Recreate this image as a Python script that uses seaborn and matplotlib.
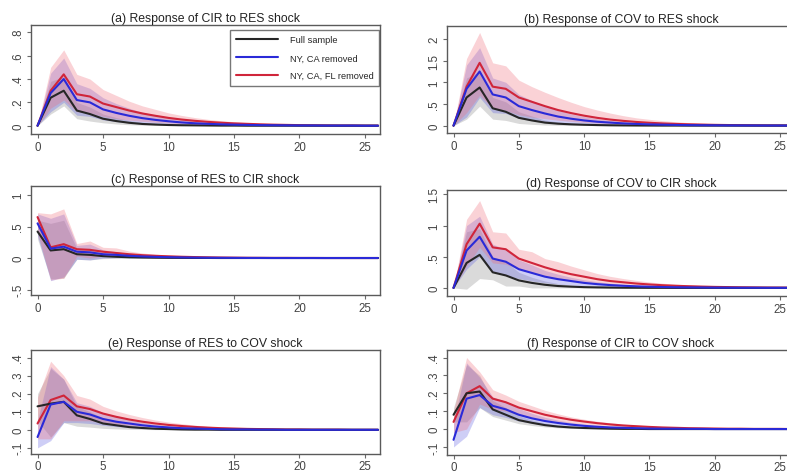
import matplotlib
matplotlib.use("Agg")
import matplotlib.pyplot as plt
import matplotlib.ticker as mticker
import seaborn as sns
import pandas as pd

sns.set_style("white")
plt.rcParams['font.family'] = ['Liberation Sans', 'DejaVu Sans']

horizon = list(range(27))
series_names = ["Full sample", "NY, CA removed", "NY, CA, FL removed"]

# (a) CIR <- RES
a_full = [0, .24, .30, .13, .10, .06, .04, .025, .015, .010, .006, .004, .003, .002, .001, .001, 0, 0, 0, 0, 0, 0, 0, 0, 0, 0, 0]
a_full_lo = [0, .10, .17, .06, .04, .025, .015, .008, .005, .003, .002, .001, .001, 0, 0, 0, 0, 0, 0, 0, 0, 0, 0, 0, 0, 0, 0]
a_full_hi = [0, .38, .42, .20, .16, .10, .07, .045, .03, .02, .013, .008, .005, .003, .002, .001, 0, 0, 0, 0, 0, 0, 0, 0, 0, 0, 0]
a_nyca = [0, .28, .40, .22, .20, .14, .11, .085, .065, .05, .038, .028, .021, .016, .012, .009, .007, .005, .004, .003, .002, .002, .001, .001, .001, 0, 0]
a_nyca_lo = [0, .12, .20, .09, .08, .05, .035, .025, .018, .013, .009, .006, .004, .003, .002, .002, .001, .001, .001, 0, 0, 0, 0, 0, 0, 0, 0]
a_nyca_hi = [0, .45, .58, .36, .32, .24, .19, .15, .115, .09, .07, .053, .04, .03, .023, .017, .013, .01, .007, .005, .004, .003, .002, .002, .001, .001, .001]
a_nycafl = [0, .30, .44, .27, .25, .19, .16, .13, .105, .085, .067, .053, .042, .033, .026, .02, .016, .012, .009, .007, .005, .004, .003, .002, .002, .001, .001]
a_nycafl_lo = [0, .15, .22, .12, .11, .08, .06, .048, .037, .029, .022, .017, .013, .01, .007, .005, .004, .003, .002, .002, .001, .001, .001, 0, 0, 0, 0]
a_nycafl_hi = [0, .50, .65, .44, .40, .31, .26, .21, .17, .14, .11, .088, .07, .055, .043, .034, .026, .02, .016, .012, .009, .007, .005, .004, .003, .002, .002]

# (b) COV <- RES
b_full = [0, .65, .88, .40, .32, .18, .12, .07, .045, .03, .02, .013, .008, .005, .003, .002, .001, .001, 0, 0, 0, 0, 0, 0, 0, 0, 0]
b_full_lo = [0, .15, .45, .15, .12, .05, .03, .015, .008, .005, .003, .002, .001, .001, 0, 0, 0, 0, 0, 0, 0, 0, 0, 0, 0, 0, 0]
b_full_hi = [0, 1.10, 1.25, .65, .55, .32, .22, .13, .085, .055, .036, .023, .015, .01, .006, .004, .003, .002, .001, .001, 0, 0, 0, 0, 0, 0, 0]
b_nyca = [0, .85, 1.25, .72, .65, .45, .36, .28, .21, .16, .12, .09, .07, .052, .039, .029, .022, .016, .012, .009, .007, .005, .004, .003, .002, .002, .001]
b_nyca_lo = [0, .20, .65, .30, .28, .17, .12, .085, .06, .042, .03, .021, .015, .011, .008, .006, .004, .003, .002, .002, .001, .001, .001, 0, 0, 0, 0]
b_nyca_hi = [0, 1.40, 1.80, 1.10, 1.00, .72, .58, .46, .35, .27, .21, .16, .12, .09, .068, .051, .038, .028, .021, .016, .012, .009, .007, .005, .004, .003, .002]
b_nycafl = [0, .90, 1.45, .90, .85, .65, .55, .45, .36, .29, .23, .18, .14, .11, .085, .066, .051, .04, .031, .024, .018, .014, .011, .008, .006, .005, .004]
b_nycafl_lo = [0, .30, .70, .40, .35, .25, .20, .16, .125, .097, .075, .058, .045, .035, .027, .021, .016, .012, .009, .007, .005, .004, .003, .002, .002, .001, .001]
b_nycafl_hi = [0, 1.55, 2.15, 1.45, 1.38, 1.05, .90, .77, .65, .54, .44, .36, .29, .23, .18, .145, .115, .09, .07, .055, .043, .034, .027, .021, .016, .013, .01]

# (c) RES <- CIR
c_full = [.42, .12, .14, .06, .05, .03, .02, .012, .008, .005, .003, .002, .001, .001, 0, 0, 0, 0, 0, 0, 0, 0, 0, 0, 0, 0, 0]
c_full_lo = [.30, -.33, -.32, -.02, -.03, -.01, -.005, -.003, -.002, -.001, 0, 0, 0, 0, 0, 0, 0, 0, 0, 0, 0, 0, 0, 0, 0, 0, 0]
c_full_hi = [.60, .55, .60, .15, .13, .08, .05, .03, .02, .013, .008, .005, .003, .002, .001, .001, 0, 0, 0, 0, 0, 0, 0, 0, 0, 0, 0]
c_nyca = [.55, .15, .18, .10, .09, .06, .05, .035, .025, .018, .013, .009, .006, .004, .003, .002, .001, .001, 0, 0, 0, 0, 0, 0, 0, 0, 0]
c_nyca_lo = [.35, -.36, -.30, -.02, -.03, .00, .005, .005, .004, .003, .002, .001, .001, 0, 0, 0, 0, 0, 0, 0, 0, 0, 0, 0, 0, 0, 0]
c_nyca_hi = [.70, .63, .70, .20, .22, .13, .10, .07, .05, .035, .025, .018, .012, .008, .006, .004, .003, .002, .001, .001, 0, 0, 0, 0, 0, 0, 0]
c_nycafl = [.65, .17, .22, .14, .13, .10, .08, .06, .045, .035, .027, .02, .015, .011, .008, .006, .004, .003, .002, .002, .001, .001, 0, 0, 0, 0, 0]
c_nycafl_lo = [.40, -.35, -.32, .03, .00, .03, .02, .016, .012, .009, .007, .005, .004, .003, .002, .001, .001, 0, 0, 0, 0, 0, 0, 0, 0, 0, 0]
c_nycafl_hi = [.72, .70, .78, .23, .27, .17, .16, .11, .08, .06, .045, .034, .026, .019, .014, .01, .007, .005, .004, .003, .002, .001, .001, 0, 0, 0, 0]

# (d) COV <- CIR
d_full = [0, .40, .53, .25, .20, .12, .08, .05, .03, .02, .012, .008, .005, .003, .002, .001, .001, 0, 0, 0, 0, 0, 0, 0, 0, 0, 0]
d_full_lo = [0, -.02, .15, .13, .03, .03, 0, 0, 0, 0, 0, 0, 0, 0, 0, 0, 0, 0, 0, 0, 0, 0, 0, 0, 0, 0, 0]
d_full_hi = [0, .90, .95, .50, .42, .25, .17, .11, .07, .045, .028, .018, .011, .007, .004, .003, .002, .001, .001, 0, 0, 0, 0, 0, 0, 0, 0]
d_nyca = [0, .60, .82, .47, .42, .30, .24, .18, .14, .11, .08, .06, .045, .034, .025, .019, .014, .01, .008, .006, .004, .003, .002, .002, .001, .001, .001]
d_nyca_lo = [0, .30, .50, .25, .20, .15, .11, .08, .06, .045, .033, .024, .018, .013, .01, .007, .005, .004, .003, .002, .002, .001, .001, .001, 0, 0, 0]
d_nyca_hi = [0, 1.00, 1.15, .70, .62, .45, .37, .28, .22, .17, .13, .10, .075, .056, .042, .031, .023, .017, .013, .01, .007, .005, .004, .003, .002, .002, .001]
d_nycafl = [0, .70, 1.03, .65, .62, .47, .40, .33, .27, .22, .18, .14, .11, .09, .07, .055, .043, .034, .027, .021, .016, .013, .01, .008, .006, .005, .004]
d_nycafl_lo = [0, .35, .65, .40, .38, .30, .24, .19, .15, .12, .095, .074, .058, .045, .035, .027, .021, .016, .013, .01, .008, .006, .005, .004, .003, .002, .002]
d_nycafl_hi = [0, 1.10, 1.40, .90, .88, .62, .58, .47, .42, .35, .29, .23, .185, .15, .12, .095, .075, .06, .047, .037, .029, .023, .018, .014, .011, .009, .007]

# (e) RES <- COV
e_full = [.13, .145, .155, .08, .06, .035, .025, .015, .01, .006, .004, .002, .001, .001, 0, 0, 0, 0, 0, 0, 0, 0, 0, 0, 0, 0, 0]
e_full_lo = [.05, -.04, .04, .02, .015, .008, .005, .003, .002, .001, .001, 0, 0, 0, 0, 0, 0, 0, 0, 0, 0, 0, 0, 0, 0, 0, 0]
e_full_hi = [.20, .34, .28, .13, .10, .065, .045, .028, .018, .011, .007, .004, .003, .002, .001, .001, 0, 0, 0, 0, 0, 0, 0, 0, 0, 0, 0]
e_nyca = [-.04, .14, .155, .10, .085, .06, .045, .035, .025, .018, .013, .009, .007, .005, .003, .002, .002, .001, .001, 0, 0, 0, 0, 0, 0, 0, 0]
e_nyca_lo = [-.10, -.06, .04, .04, .035, .025, .018, .013, .009, .006, .004, .003, .002, .001, .001, 0, 0, 0, 0, 0, 0, 0, 0, 0, 0, 0, 0]
e_nyca_hi = [.05, .35, .28, .15, .13, .095, .072, .055, .041, .03, .022, .016, .012, .009, .006, .004, .003, .002, .002, .001, .001, 0, 0, 0, 0, 0, 0]
e_nycafl = [.035, .165, .19, .13, .115, .09, .072, .057, .045, .035, .027, .021, .016, .012, .009, .007, .005, .004, .003, .002, .002, .001, .001, .001, 0, 0, 0]
e_nycafl_lo = [-.05, -.05, .05, .05, .05, .04, .032, .025, .019, .015, .011, .008, .006, .005, .003, .002, .002, .001, .001, 0, 0, 0, 0, 0, 0, 0, 0]
e_nycafl_hi = [.18, .38, .30, .19, .17, .13, .105, .085, .068, .054, .043, .034, .026, .02, .015, .012, .009, .007, .005, .004, .003, .002, .002, .001, .001, .001, 0]

# (f) CIR <- COV
f_full = [.08, .20, .21, .11, .08, .05, .035, .022, .014, .009, .006, .004, .002, .001, .001, 0, 0, 0, 0, 0, 0, 0, 0, 0, 0, 0, 0]
f_full_lo = [.04, .04, .12, .07, .05, .03, .02, .012, .007, .004, .002, .001, .001, 0, 0, 0, 0, 0, 0, 0, 0, 0, 0, 0, 0, 0, 0]
f_full_hi = [.12, .36, .30, .16, .12, .075, .05, .033, .021, .014, .009, .006, .004, .002, .001, .001, 0, 0, 0, 0, 0, 0, 0, 0, 0, 0, 0]
f_nyca = [-.06, .17, .19, .13, .11, .08, .06, .045, .034, .025, .018, .013, .009, .007, .005, .003, .002, .002, .001, .001, 0, 0, 0, 0, 0, 0, 0]
f_nyca_lo = [-.10, -.04, .12, .08, .065, .045, .033, .024, .017, .012, .009, .006, .004, .003, .002, .001, .001, 0, 0, 0, 0, 0, 0, 0, 0, 0, 0]
f_nyca_hi = [.03, .37, .29, .18, .155, .115, .088, .066, .05, .037, .028, .02, .015, .011, .008, .006, .004, .003, .002, .002, .001, .001, 0, 0, 0, 0, 0]
f_nycafl = [.04, .20, .24, .17, .15, .12, .10, .08, .065, .052, .042, .033, .026, .02, .016, .012, .009, .007, .005, .004, .003, .002, .002, .001, .001, .001, 0]
f_nycafl_lo = [-.02, .00, .14, .11, .10, .08, .065, .052, .042, .033, .026, .02, .016, .012, .009, .007, .005, .004, .003, .002, .002, .001, .001, .001, 0, 0, 0]
f_nycafl_hi = [.10, .40, .32, .22, .19, .155, .13, .105, .085, .068, .055, .044, .035, .028, .022, .017, .013, .01, .008, .006, .005, .004, .003, .002, .002, .001, .001]

titles = ["(a) Response of CIR to RES shock", "(b) Response of COV to RES shock",
          "(c) Response of RES to CIR shock", "(d) Response of COV to CIR shock",
          "(e) Response of RES to COV shock", "(f) Response of CIR to COV shock"]

panel_data = [
    [(a_full, a_full_lo, a_full_hi), (a_nyca, a_nyca_lo, a_nyca_hi), (a_nycafl, a_nycafl_lo, a_nycafl_hi)],
    [(b_full, b_full_lo, b_full_hi), (b_nyca, b_nyca_lo, b_nyca_hi), (b_nycafl, b_nycafl_lo, b_nycafl_hi)],
    [(c_full, c_full_lo, c_full_hi), (c_nyca, c_nyca_lo, c_nyca_hi), (c_nycafl, c_nycafl_lo, c_nycafl_hi)],
    [(d_full, d_full_lo, d_full_hi), (d_nyca, d_nyca_lo, d_nyca_hi), (d_nycafl, d_nycafl_lo, d_nycafl_hi)],
    [(e_full, e_full_lo, e_full_hi), (e_nyca, e_nyca_lo, e_nyca_hi), (e_nycafl, e_nycafl_lo, e_nycafl_hi)],
    [(f_full, f_full_lo, f_full_hi), (f_nyca, f_nyca_lo, f_nyca_hi), (f_nycafl, f_nycafl_lo, f_nycafl_hi)],
]

yticks = [[0, .2, .4, .6, .8], [0, .5, 1, 1.5, 2], [-.5, 0, .5, 1],
          [0, .5, 1, 1.5], [-.1, 0, .1, .2, .3, .4], [-.1, 0, .1, .2, .3, .4]]
ylims = [(-0.071, 0.863), (-0.17, 2.30), (-0.587, 1.143),
         (-0.13, 1.57), (-0.134, 0.442), (-0.145, 0.442)]

# axes boxes in pixels: x0, y0 (top), x1, y1 (bottom)
boxes = [(31, 26, 380, 135), (447, 27, 795, 134),
         (31, 187, 380, 296), (447, 191, 795, 297),
         (31, 351, 380, 455), (447, 351, 795, 456)]

line_colors = ["#262626", "#2a2ad8", "#d0253a"]
band_colors = ["#8c8c8c", "#4f4fe0", "#f06a78"]
band_alpha = [0.32, 0.28, 0.30]
line_order = [2, 0, 1]  # red underneath, blue on top

W, H = 787, 477
fig = plt.figure(figsize=(W / 100, H / 100), dpi=100)


def stata_fmt(v, pos):
    s = f"{v:g}"
    if s.startswith("0."):
        s = s[1:]
    elif s.startswith("-0."):
        s = "-" + s[2:]
    return s


for i in range(6):
    x0, y0, x1, y1 = boxes[i]
    ax = fig.add_axes([x0 / W, 1 - y1 / H, (x1 - x0) / W, (y1 - y0) / H])
    for k, (mid, lo, hi) in enumerate(panel_data[i]):
        ax.fill_between(horizon, lo, hi, color=band_colors[k], alpha=band_alpha[k], lw=0)
    handles = {}
    for k in line_order:
        mid = panel_data[i][k][0]
        df = pd.DataFrame({"h": horizon, "irf": mid})
        sns.lineplot(data=df, x="h", y="irf", ax=ax, color=line_colors[k],
                     linewidth=1.5, label=series_names[k])
        handles[k] = ax.get_lines()[-1]
    ax.set_xlim(-0.5, 26.15)
    ax.set_ylim(*ylims[i])
    ax.set_xticks([0, 5, 10, 15, 20, 25])
    ax.set_yticks(yticks[i])
    ax.yaxis.set_major_formatter(mticker.FuncFormatter(stata_fmt))
    ax.set_xlabel("")
    ax.set_ylabel("")
    ax.set_title(titles[i], fontsize=8.8, color="#222222", pad=3)
    for sp in ax.spines.values():
        sp.set_color("#5a5a5a")
        sp.set_linewidth(1.0)
    ax.tick_params(axis="both", direction="out", length=3, width=0.8, color="#6a6a6a",
                   labelsize=8.3, labelcolor="#444444", pad=2, left=True, bottom=True)
    if i >= 4:
        ax.tick_params(axis="x", pad=1.2)
    for lab in ax.get_yticklabels():
        lab.set_rotation(90)
        lab.set_va("center")
    if i == 0:
        leg = ax.legend([handles[0], handles[1], handles[2]], series_names,
                        loc="upper right", bbox_to_anchor=(0.997, 0.955), fontsize=6.7,
                        frameon=True, fancybox=False, edgecolor="#555555",
                        handlelength=4.5, handletextpad=1.3, labelspacing=0.95,
                        borderpad=0.6, borderaxespad=0)
        leg.get_frame().set_linewidth(1.0)
    elif ax.get_legend() is not None:
        ax.get_legend().remove()

fig.savefig("out.png", dpi=100)
